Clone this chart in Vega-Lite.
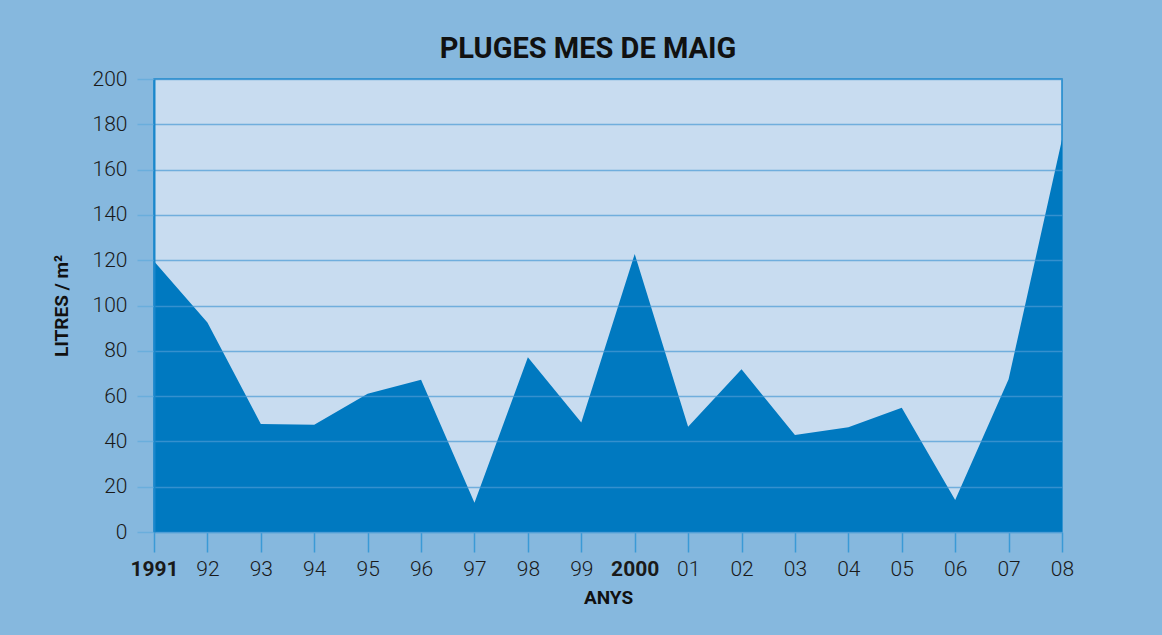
{
  "$schema": "https://vega.github.io/schema/vega-lite/v6.json",
  "width": 908,
  "height": 453,
  "autosize": {"type": "none"},
  "padding": {"left": 154, "top": 79, "right": 100, "bottom": 103},
  "background": "#86b8de",
  "title": {
    "text": "PLUGES MES DE MAIG",
    "font": "Roboto",
    "fontSize": 29,
    "fontWeight": "bold",
    "color": "#111111",
    "anchor": "middle",
    "frame": "group",
    "dx": -20,
    "offset": 4
  },
  "data": {
    "values": [
      {"year": 1991, "litres": 119.5},
      {"year": 1992, "litres": 92.5},
      {"year": 1993, "litres": 47.7},
      {"year": 1994, "litres": 47.3},
      {"year": 1995, "litres": 61},
      {"year": 1996, "litres": 67.2},
      {"year": 1997, "litres": 12.9},
      {"year": 1998, "litres": 77.1},
      {"year": 1999, "litres": 48.3},
      {"year": 2000, "litres": 122.7},
      {"year": 2001, "litres": 46.5},
      {"year": 2002, "litres": 71.8},
      {"year": 2003, "litres": 42.8},
      {"year": 2004, "litres": 46.3},
      {"year": 2005, "litres": 54.9},
      {"year": 2006, "litres": 14.1},
      {"year": 2007, "litres": 67.4},
      {"year": 2008, "litres": 173.3}
    ]
  },
  "mark": {"type": "area", "color": "#0079c0", "opacity": 1},
  "encoding": {
    "x": {
      "field": "year",
      "type": "quantitative",
      "scale": {"domain": [1991, 2008], "nice": false, "zero": false},
      "axis": {
        "title": "ANYS",
        "values": [1991,1992,1993,1994,1995,1996,1997,1998,1999,2000,2001,2002,2003,2004,2005,2006,2007,2008],
        "labelExpr": "datum.value == 1991 || datum.value == 2000 ? toString(datum.value) : slice(toString(datum.value), 2)",
        "labelFontWeight": {"condition": {"test": "datum.value == 1991 || datum.value == 2000", "value": "bold"}, "value": 300},
        "grid": false,
        "tickSize": 20,
        "tickColor": "#3a9ad6",
        "tickWidth": 1.5,
        "domainColor": "#5aa8dc",
        "domainWidth": 1.5,
        "labelPadding": 6,
        "labelFont": "Roboto",
        "labelFontSize": 21,
        "labelColor": "#1a1a1a",
        "labelFlush": false,
        "labelOverlap": false,
        "titleFont": "Roboto",
        "titleFontSize": 19,
        "titleFontWeight": "bold",
        "titleColor": "#111111",
        "titlePadding": 9
      }
    },
    "y": {
      "field": "litres",
      "type": "quantitative",
      "scale": {"domain": [0, 200], "nice": false},
      "axis": {
        "title": "LITRES / m²",
        "values": [0,20,40,60,80,100,120,140,160,180,200],
        "grid": true,
        "gridColor": "#4a9ad4",
        "gridOpacity": 0.7,
        "gridWidth": 1.5,
        "tickSize": 17,
        "tickColor": "#6aaedc",
        "tickWidth": 1.5,
        "domainColor": "#1a87cc",
        "domainWidth": 2,
        "labelPadding": 10,
        "labelFont": "Roboto",
        "labelFontSize": 21,
        "labelFontWeight": 300,
        "labelColor": "#1a1a1a",
        "labelFlush": false,
        "titleFont": "Roboto",
        "titleFontSize": 19,
        "titleFontWeight": "bold",
        "titleColor": "#111111",
        "titlePadding": 21,
        "zindex": 1
      }
    }
  },
  "config": {
    "view": {"fill": "#c8dcf0", "stroke": "#1a87cc", "strokeWidth": 1.5}
  }
}
